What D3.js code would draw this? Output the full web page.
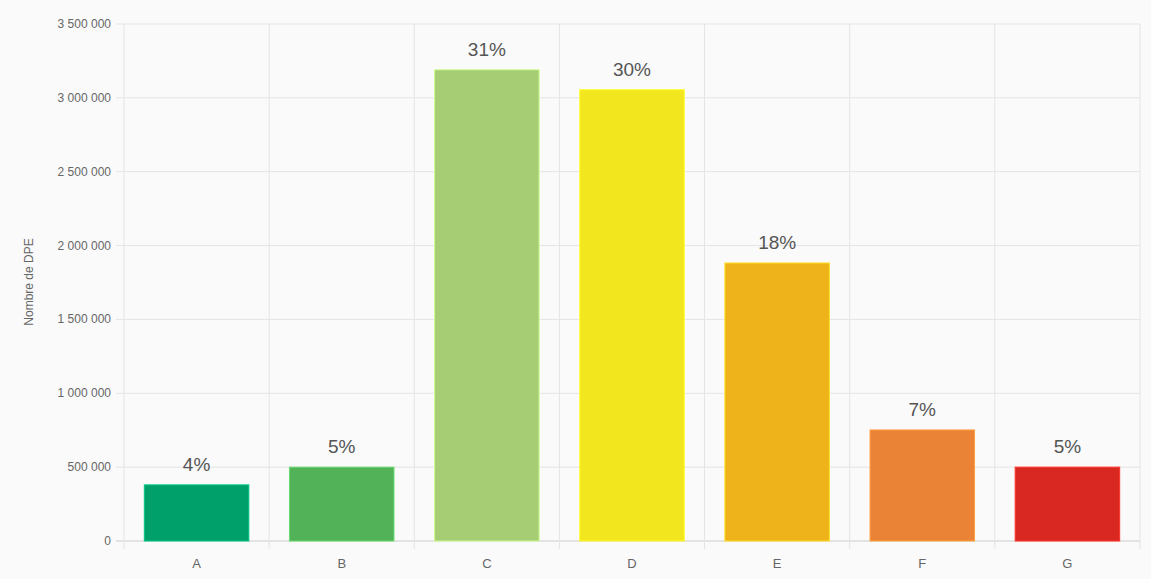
<!DOCTYPE html><html><head><meta charset="utf-8"><script src="https://cdn.jsdelivr.net/npm/d3@7"></script>
<style>body{margin:0;background:#fafafa;font-family:"Helvetica Neue",Arial,"Liberation Sans",sans-serif}</style></head><body><svg id="c" width="1151" height="579"></svg><script>
const categories=["A","B","C","D","E","F","G"];
const values=[380000,500000,3190000,3055000,1882000,752000,500000];
const percents=["4%","5%","31%","30%","18%","7%","5%"];
const colors=["#00a06a","#52b258","#a6cc74","#f2e61e","#eeb31b","#eb8336","#d92821"];
const yTicks=[0,500000,1000000,1500000,2000000,2500000,3000000,3500000];
const svg=d3.select("#c");
const L=124,R=1140,T=24,B=541;
const x=d3.scaleBand().domain(categories).range([L,R]);
const y=d3.scaleLinear().domain([0,3500000]).range([B,T]);
const fmt=v=>d3.format(",")(v).replace(/,/g," ");
const g=svg.append("g");
yTicks.forEach(t=>{g.append("line").attr("x1",L-8).attr("x2",R).attr("y1",y(t)).attr("y2",y(t)).attr("stroke",t===0?"#ccc":"#e4e4e4");
g.append("text").attr("x",L-13).attr("y",y(t)+4).attr("text-anchor","end").attr("font-size",12).attr("fill","#666").text(fmt(t));});
categories.forEach((c,i)=>{const xx=x(c);g.append("line").attr("x1",xx).attr("x2",xx).attr("y1",T).attr("y2",B+8).attr("stroke","#e4e4e4");
g.append("text").attr("x",xx+x.bandwidth()/2).attr("y",B+27).attr("text-anchor","middle").attr("font-size",13).attr("fill","#666").text(c);});
g.append("line").attr("x1",R).attr("x2",R).attr("y1",T).attr("y2",B+8).attr("stroke","#e4e4e4");
const bw=x.bandwidth()*0.72;
categories.forEach((c,i)=>{const cx=x(c)+x.bandwidth()/2;
g.append("rect").attr("x",cx-bw/2).attr("y",y(values[i])).attr("width",bw).attr("height",B-y(values[i])).attr("fill",colors[i]).attr("stroke",d3.color(colors[i]).brighter(0.6)).attr("stroke-width",1);
g.append("text").attr("x",cx).attr("y",y(values[i])-14).attr("text-anchor","middle").attr("font-size",19).attr("fill","#555").text(percents[i]);});
svg.append("text").attr("transform","translate(33,282) rotate(-90)").attr("text-anchor","middle").attr("font-size",12).attr("fill","#666").text("Nombre de DPE");
</script></body></html>
